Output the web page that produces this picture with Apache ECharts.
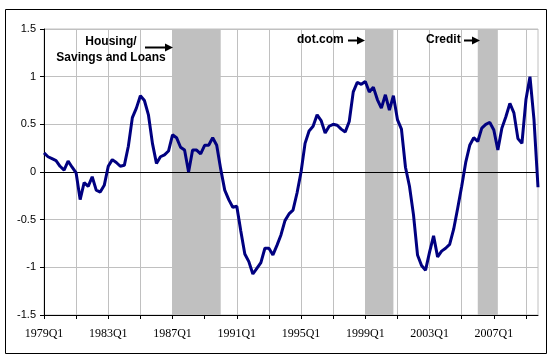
<!DOCTYPE html>
<html><head><meta charset="utf-8">
<script src="https://cdn.jsdelivr.net/npm/echarts@6/dist/echarts.min.js"></script>
<style>html,body{margin:0;padding:0;background:#fff;}#c{width:554px;height:363px;}</style>
</head><body><div id="c"></div>
<script>
var startYear = 1979;
var quarterCount = 124;
var categories = [];
for (var k = 0; k < quarterCount; k++) {
  categories.push((startYear + Math.floor(k / 4)) + 'Q' + (k % 4 + 1));
}
var values = [
  0.20, 0.16, 0.14, 0.12, 0.06, 0.02, 0.115, 0.05, -0.01, -0.29,
  -0.11, -0.15, -0.05, -0.19, -0.21, -0.14, 0.06, 0.13, 0.10, 0.06,
  0.07, 0.27, 0.57, 0.67, 0.80, 0.75, 0.60, 0.30, 0.09, 0.16,
  0.18, 0.22, 0.39, 0.36, 0.26, 0.23, 0.00, 0.23, 0.23, 0.19,
  0.28, 0.28, 0.36, 0.28, 0.03, -0.19, -0.29, -0.37, -0.36, -0.62,
  -0.86, -0.94, -1.07, -1.01, -0.95, -0.80, -0.80, -0.87, -0.77, -0.66,
  -0.51, -0.44, -0.40, -0.22, 0.00, 0.30, 0.43, 0.48, 0.60, 0.54,
  0.41, 0.48, 0.50, 0.49, 0.45, 0.42, 0.53, 0.84, 0.94, 0.92,
  0.95, 0.84, 0.89, 0.76, 0.67, 0.81, 0.65, 0.80, 0.55, 0.45,
  0.05, -0.15, -0.45, -0.87, -0.98, -1.03, -0.84, -0.67, -0.89, -0.83,
  -0.80, -0.76, -0.60, -0.38, -0.15, 0.10, 0.28, 0.36, 0.32, 0.46,
  0.50, 0.52, 0.44, 0.23, 0.46, 0.58, 0.72, 0.62, 0.35, 0.30,
  0.76, 1.00, 0.55, -0.16
];
var shadedPeriods = [
  ['1987Q1', '1990Q1'],
  ['1999Q1', '2000Q4'],
  ['2006Q1', '2007Q2']
];
var yTicks = [-1.5, -1, -0.5, 0, 0.5, 1, 1.5];
var annotations = ['Housing/\nSavings and Loans', 'dot.com', 'Credit'];

function arrow(x1, x2, y) {
  return [
    {type: 'line', shape: {x1: x1, y1: y, x2: x2 - 6, y2: y}, style: {stroke: '#000', lineWidth: 2}, z: 100},
    {type: 'polygon', shape: {points: [[x2, y], [x2 - 8, y - 4], [x2 - 8, y + 4]]}, style: {fill: '#000'}, z: 100}
  ];
}

var chart = echarts.init(document.getElementById('c'), null, {renderer: 'canvas'});
var txtStyle = {font: 'bold 12px "Liberation Sans", Arial, sans-serif', fill: '#000'};
var graphics = [
  {type: 'rect', shape: {x: 5.5, y: 9.5, width: 541, height: 344}, style: {fill: 'none', stroke: '#000', lineWidth: 1}, z: 100},
  {type: 'text', x: 111, y: 34, style: Object.assign({text: annotations[0], textAlign: 'center', lineHeight: 16}, txtStyle), z: 100},
  {type: 'text', x: 297, y: 34, style: Object.assign({text: annotations[1]}, txtStyle), z: 100},
  {type: 'text', x: 426, y: 34, style: Object.assign({text: annotations[2]}, txtStyle), z: 100}
].concat(arrow(145, 173, 47.5)).concat(arrow(348, 365, 40.5)).concat(arrow(464, 480, 40.5));

chart.setOption({
  animation: false,
  grid: {left: 44, right: 16, top: 29, bottom: 48, show: true, borderColor: '#c0c0c0', borderWidth: 1},
  xAxis: {
    type: 'category', data: categories, boundaryGap: false,
    axisLine: {onZero: false, lineStyle: {color: '#000', width: 1}},
    axisTick: {show: true, interval: 7, length: 4, lineStyle: {color: '#000'}},
    axisLabel: {interval: 15, color: '#000', fontFamily: '"Liberation Serif", "Times New Roman", serif', fontSize: 12, margin: 13},
    splitLine: {show: true, interval: 7, lineStyle: {color: '#c0c0c0', width: 1}}
  },
  yAxis: {
    type: 'value', min: yTicks[0], max: yTicks[yTicks.length - 1], interval: 0.5,
    axisLine: {show: true, lineStyle: {color: '#000', width: 1}},
    axisTick: {show: true, length: 4, lineStyle: {color: '#000'}},
    axisLabel: {color: '#000', fontFamily: '"Liberation Sans", Arial, sans-serif', fontSize: 11, margin: 8,
      formatter: function (v) { return String(v); }},
    splitLine: {show: true, lineStyle: {color: '#c0c0c0', width: 1}}
  },
  series: [{
    type: 'line', data: values, showSymbol: false, symbol: 'none',
    lineStyle: {color: '#000080', width: 3}, z: 5,
    markArea: {silent: true, itemStyle: {color: '#c0c0c0'},
      data: shadedPeriods.map(function (p) { return [{xAxis: p[0]}, {xAxis: p[1]}]; })},
    markLine: {silent: true, symbol: 'none', label: {show: false},
      lineStyle: {color: '#000', width: 1, type: 'solid'}, data: [{yAxis: 0}]}
  }],
  graphic: graphics
});
</script></body></html>
